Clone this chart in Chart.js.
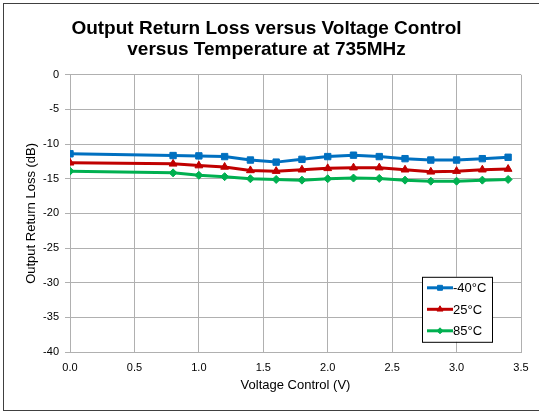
<!DOCTYPE html>
<html>
<head>
<meta charset="utf-8">
<script src="https://cdn.jsdelivr.net/npm/chart.js@4.4.0/dist/chart.umd.min.js"></script>
<style>
  body { margin: 0; background: #fff; }
  #wrap { width: 539px; height: 411px; }
</style>
</head>
<body>
<div id="wrap"><canvas id="chart"></canvas></div>
<script>
// voltage control (V)
const volts = [0, 0.8, 1.0, 1.2, 1.4, 1.6, 1.8, 2.0, 2.2, 2.4, 2.6, 2.8, 3.0, 3.2, 3.4];
// output return loss (dB)
const rl_m40 = [-11.4, -11.65, -11.7, -11.8, -12.3, -12.6, -12.2, -11.8, -11.6, -11.8, -12.1, -12.3, -12.3, -12.1, -11.9];
const rl_25  = [-12.7, -12.85, -13.1, -13.3, -13.8, -13.9, -13.7, -13.5, -13.4, -13.4, -13.7, -14.0, -13.9, -13.7, -13.6];
const rl_85  = [-13.9, -14.15, -14.5, -14.7, -15.0, -15.1, -15.2, -15.0, -14.9, -14.95, -15.2, -15.35, -15.35, -15.2, -15.1];
const labels = ['-40°C', '25°C', '85°C'];
const colors = ['#0070C0', '#C00000', '#00B050'];
const shapes = ['rect', 'triangle', 'rectRot'];

function pts(ys) {
    return volts.map((v, i) => ({ x: v, y: ys[i] }));
}

const font = "'Liberation Sans', Arial, sans-serif";

// white background + outer frame
const framePlugin = {
    id: 'frame',
    beforeDraw(chart) {
        const c = chart.ctx;
        c.save();
        c.fillStyle = '#fff';
        c.fillRect(0, 0, chart.width, chart.height);
        c.strokeStyle = '#404040';
        c.lineWidth = 1;
        c.strokeRect(3.5, 3.5, chart.width + 5, chart.height - 4);
        c.restore();
    }
};

// legend box drawn inside the plot area (bottom right)
const boxLegend = {
    id: 'boxLegend',
    afterDraw(chart) {
        const c = chart.ctx;
        const a = chart.chartArea;
        const x0 = a.right - 99, y0 = a.top + 202, w = 70, h = 65;
        c.save();
        c.fillStyle = '#fff';
        c.fillRect(x0, y0, w, h);
        c.strokeStyle = '#000';
        c.lineWidth = 1;
        c.strokeRect(x0 + 0.5, y0 + 0.5, w, h);
        c.font = '13px ' + font;
        c.textBaseline = 'middle';
        chart.data.datasets.forEach((ds, i) => {
            const y = y0 + 11 + i * 21.5;
            c.strokeStyle = ds.borderColor;
            c.fillStyle = ds.backgroundColor;
            c.lineWidth = 3;
            c.beginPath();
            c.moveTo(x0 + 5, y);
            c.lineTo(x0 + 31, y);
            c.stroke();
            c.lineWidth = 1;
            Chart.helpers.drawPoint(c, {
                pointStyle: ds.pointStyle,
                radius: ds.pointRadius - 1,
                borderWidth: 1
            }, x0 + 18, y);
            c.fillStyle = '#000';
            c.fillText(ds.label, x0 + 31, y + 1);
        });
        c.restore();
    }
};

const datasets = [rl_m40, rl_25, rl_85].map((ys, i) => ({
    label: labels[i],
    data: pts(ys),
    borderColor: colors[i],
    backgroundColor: colors[i],
    borderWidth: 3,
    pointStyle: shapes[i],
    pointRadius: i === 2 ? 4 : 4.5,
    pointBorderWidth: 1,
    showLine: true,
    tension: 0
}));

new Chart(document.getElementById('chart'), {
    type: 'scatter',
    data: { datasets: datasets },
    plugins: [framePlugin, boxLegend],
    options: {
        responsive: true,
        maintainAspectRatio: false,
        animation: false,
        layout: { padding: { left: 12, right: 18, top: 0, bottom: 18 } },
        plugins: {
            legend: { display: false },
            tooltip: { enabled: false },
            title: {
                display: true,
                text: ['Output Return Loss versus Voltage Control', 'versus Temperature at 735MHz'],
                color: '#000',
                font: { family: font, size: 19, weight: 'bold', lineHeight: 1.1 },
                padding: { top: 18, bottom: 15 }
            }
        },
        scales: {
            x: {
                type: 'linear',
                min: 0,
                max: 3.5,
                ticks: {
                    stepSize: 0.5,
                    color: '#000',
                    font: { family: font, size: 11 },
                    padding: 9,
                    callback: v => v.toFixed(1)
                },
                grid: { color: '#b0b0b0', tickLength: 0 },
                border: { color: '#b0b0b0' },
                title: {
                    display: true,
                    text: 'Voltage Control (V)',
                    color: '#000',
                    font: { family: font, size: 13 },
                    padding: { top: 0, bottom: 0 }
                },
                afterFit: s => { s.height = 41; }
            },
            y: {
                min: -40,
                max: 0,
                ticks: {
                    stepSize: 5,
                    color: '#000',
                    font: { family: font, size: 11 },
                    padding: 6
                },
                grid: { color: '#b0b0b0', tickLength: 5 },
                border: { color: '#b0b0b0' },
                title: {
                    display: true,
                    text: 'Output Return Loss (dB)',
                    color: '#000',
                    font: { family: font, size: 13 },
                    padding: { top: 12, bottom: 0 }
                },
                afterFit: s => { s.width = 58; }
            }
        }
    }
});
</script>
</body>
</html>
